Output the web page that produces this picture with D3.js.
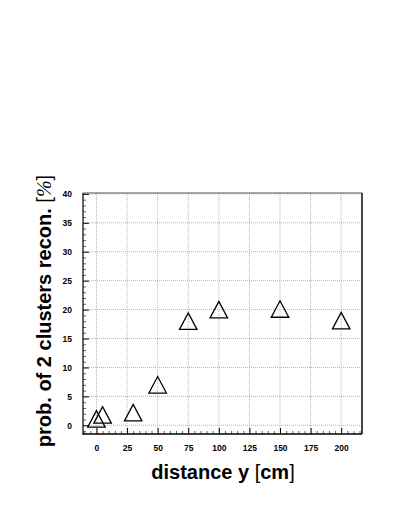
<!DOCTYPE html>
<html lang="en">
<head>
<meta charset="UTF-8">
<title>prob. of 2 clusters recon.</title>
<script src="https://cdn.jsdelivr.net/npm/d3@7"></script>
<style>
  body { margin: 0; background: #fff; }
  svg text { font-family: "Liberation Sans", Arial, sans-serif; }
</style>
</head>
<body>
<svg id="plot" width="401" height="518"></svg>
<script>
// measured points: distance y [cm] vs probability [%]
const distance = [0, 5, 30, 50, 75, 100, 150, 200];
const prob     = [1.1, 1.8, 2.2, 7.0, 18.0, 20.0, 20.1, 18.1];
const xTicks   = [0, 25, 50, 75, 100, 125, 150, 175, 200];
const yTicks   = [0, 5, 10, 15, 20, 25, 30, 35, 40];

const svg = d3.select("#plot");
const L = 83, R = 362, T = 193, B = 434;

const x = d3.scaleLinear().domain([-11, 217]).range([L, R]);
const y = d3.scaleLinear().domain([-1.5, 40.15]).range([B, T]);

// grid
const grid = svg.append("g").attr("stroke", "#b4b4b4").attr("stroke-dasharray", "1,1");
grid.selectAll("line.gx").data(xTicks).join("line")
   .attr("x1", d => x(d)).attr("x2", d => x(d)).attr("y1", T).attr("y2", B);
grid.selectAll("line.gy").data(yTicks).join("line")
   .attr("x1", L).attr("x2", R).attr("y1", d => y(d)).attr("y2", d => y(d));

// minor ticks
const xMinor = d3.range(-10, 217, 5).filter(v => v % 25 != 0);
const yMinor = d3.range(-1, 41, 1).filter(v => v % 5 != 0);

svg.append("g").attr("transform", `translate(0,${B})`)
   .call(d3.axisBottom(x).tickValues(xMinor).tickSize(-3).tickFormat(""))
   .call(g => g.select(".domain").remove())
   .selectAll("line").attr("stroke", "#666");
svg.append("g").attr("transform", `translate(${L},0)`)
   .call(d3.axisLeft(y).tickValues(yMinor).tickSize(-3).tickFormat(""))
   .call(g => g.select(".domain").remove())
   .selectAll("line").attr("stroke", "#666");

// major ticks + labels
const xAxis = svg.append("g").attr("transform", `translate(0,${B})`)
   .call(d3.axisBottom(x).tickValues(xTicks).tickSizeInner(-6).tickSizeOuter(0).tickPadding(11));
const yAxis = svg.append("g").attr("transform", `translate(${L},0)`)
   .call(d3.axisLeft(y).tickValues(yTicks).tickSizeInner(-6).tickSizeOuter(0).tickPadding(11));

[xAxis, yAxis].forEach(g => {
   g.select(".domain").remove();
   g.selectAll("text").attr("font-size", "8.5px").attr("font-weight", "bold")
      .attr("font-family", "Liberation Sans, Arial, sans-serif").attr("fill", "#000");
});

// frame
svg.append("line").attr("x1", L).attr("x2", R).attr("y1", T).attr("y2", T)
   .attr("stroke", "#555").attr("stroke-width", 1.2);
svg.append("line").attr("x1", R).attr("x2", R).attr("y1", T).attr("y2", B)
   .attr("stroke", "#333").attr("stroke-width", 1.8);
svg.append("line").attr("x1", L).attr("x2", L).attr("y1", T).attr("y2", B + 1)
   .attr("stroke", "#000").attr("stroke-width", 1.2);
svg.append("line").attr("x1", L).attr("x2", R).attr("y1", B).attr("y2", B)
   .attr("stroke", "#000").attr("stroke-width", 1.6);

// open triangle markers
const hw = 8.75, hh = 8.25;
svg.append("g").selectAll("path").data(distance).join("path")
   .attr("d", (d, i) => {
      const cx = x(d), cy = y(prob[i]);
      return `M${cx - hw},${cy + hh}L${cx + hw},${cy + hh}L${cx},${cy - hh}Z`;
   })
   .attr("fill", "none").attr("stroke", "#000").attr("stroke-width", 1.3);

// axis titles
const xt = svg.append("text").attr("x", 223).attr("y", 479)
   .attr("text-anchor", "middle").attr("font-size", "20px").attr("font-weight", "bold");
xt.append("tspan").text("distance y ");
xt.append("tspan").attr("font-weight", "normal").text("[");
xt.append("tspan").text("cm");
xt.append("tspan").attr("font-weight", "normal").text("]");

const yt = svg.append("text").attr("transform", "translate(51,311) rotate(-90)")
   .attr("text-anchor", "middle").attr("font-size", "20px").attr("font-weight", "bold");
yt.append("tspan").text("prob. of 2 clusters recon. ");
yt.append("tspan").attr("font-weight", "normal").text("[");
yt.append("tspan").attr("font-weight", "normal").attr("font-style", "italic")
   .attr("font-family", "Liberation Serif, Times New Roman, serif").text("%");
yt.append("tspan").attr("font-weight", "normal").text("]");
</script>
</body>
</html>
